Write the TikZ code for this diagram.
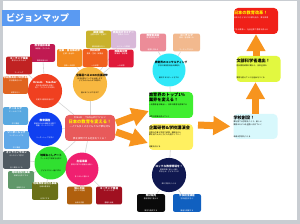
\documentclass[tikz,border=0pt]{standalone}
\usepackage{fontspec}
\setmainfont{Noto Sans CJK JP}
\usetikzlibrary{arrows.meta,backgrounds,calc}
\definecolor{pagegray}{HTML}{C9CDD2}
\definecolor{titleblue}{HTML}{5A9AF2}
\definecolor{linkgray}{HTML}{D6D6D6}
\definecolor{arroworange}{HTML}{F7941E}
\definecolor{cOliveGold}{HTML}{C9B22C}
\definecolor{cLavender}{HTML}{D9B9D9}
\definecolor{cPink}{HTML}{EC8C98}
\definecolor{cPeach}{HTML}{F2B98E}
\definecolor{cOrange}{HTML}{F28A1E}
\definecolor{cOrangeRed}{HTML}{F0601E}
\definecolor{cCrimson}{HTML}{E01A3A}
\definecolor{cMagenta}{HTML}{C01A52}
\definecolor{cDarkRed}{HTML}{C02222}
\definecolor{cBrownOr}{HTML}{E06420}
\definecolor{cLBlue}{HTML}{58A8E0}
\definecolor{cLBlueB}{HTML}{60A8E8}
\definecolor{cDGray}{HTML}{505A62}
\definecolor{cGGreen}{HTML}{60986A}
\definecolor{cOlive}{HTML}{6A7018}
\definecolor{cBrown}{HTML}{B0600E}
\definecolor{cDRed}{HTML}{A01020}
\definecolor{cBlack}{HTML}{0A0A0A}
\definecolor{cBlue}{HTML}{1060C0}
\definecolor{cCoral}{HTML}{E85A5A}
\definecolor{cGreen}{HTML}{40EE30}
\definecolor{cYellow}{HTML}{FFF060}
\definecolor{cRed}{HTML}{F02018}
\definecolor{cLime}{HTML}{E2F840}
\definecolor{cLCyan}{HTML}{D8F8FC}
\definecolor{kYellow}{HTML}{F8B840}
\definecolor{kRed}{HTML}{F04020}
\definecolor{kBlue}{HTML}{1040F0}
\definecolor{kGreen}{HTML}{30E030}
\definecolor{kPink}{HTML}{F02070}
\definecolor{kCyan}{HTML}{30E8F8}
\definecolor{kNavy}{HTML}{101850}
\definecolor{ttlYellow}{HTML}{FFF200}
\newcommand{\sbt}[2]{\fontsize{2.6}{3.1}\selectfont\bfseries #1\\[0.3pt]\fontsize{1.8}{2.2}\selectfont\mdseries #2}
\newcommand{\kct}[2]{\fontsize{2.7}{3.3}\selectfont\bfseries #1\\[0.6pt]\fontsize{1.8}{2.3}\selectfont\mdseries #2}
\newcommand{\bgt}[2]{\fontsize{4.2}{5.2}\selectfont\bfseries #1\\[1pt]\fontsize{1.9}{2.5}\selectfont\mdseries #2}
\tikzset{
  sbox/.style={rectangle, rounded corners=2pt, inner sep=0.5pt, align=center, text width=24pt, text=white, minimum width=25pt, minimum height=12pt},
  bbox/.style={rectangle, rounded corners=4pt, inner sep=0pt, align=left, text width=44pt, minimum height=26pt},
  hub/.style={circle, inner sep=0pt, minimum size=33pt, align=center, text width=28pt},
  link/.style={draw=linkgray, line width=0.6pt},
  fat/.style={draw=arroworange, line width=7pt, -{Triangle[length=17pt,width=18pt]}}
}
\begin{document}
\begin{tikzpicture}[x=1pt,y=-1pt]
\useasboundingbox (0,0) rectangle (300,224);
\begin{scope}[on background layer]
  \fill[pagegray] (0,0) rectangle (300,224);
  \fill[white] (3,1) rectangle (297,220);
\end{scope}
% title
\node[fill=titleblue, minimum width=78pt, minimum height=16pt, inner sep=0pt, anchor=north west] (title) at (2,10) {};
\node[anchor=west, text=white, font=\fontsize{9}{10}\selectfont\bfseries, inner sep=0pt] (titletext) at (6,18) {ビジョンマップ};
% circles
\node[hub, fill=kYellow, minimum size=34pt] (ycirc) at (90,84) {\kct{全国選べる100の出張研修}{日本全国どこへでも出張します\\子どもから大人まで研修を\\届けることができます}};
\node[hub, fill=kRed, text=white] (rcirc) at (45,91) {\kct{Dream Teacher}{夢を語る教師を全国に\\育て、子どもたちの夢を\\応援する教員を増やす}};
\node[hub, fill=kBlue, text=white, minimum size=34pt] (bcirc) at (45,129) {\kct{教育講座}{教師のための講座を全国で\\開催。チームづくりや\\リーダーシップを学ぶ}};
\node[hub, fill=kGreen] (gcirc) at (51,163) {\kct{地域おこしアート}{アートの力で地域を元気に\\子どもたちと一緒に作る}};
\node[hub, fill=kPink, text=white, minimum size=32pt] (pcirc) at (82,169) {\kct{出版事業}{教育に関する書籍を出版し\\多くの人に届ける}};
\node[hub, fill=kCyan] (ccirc) at (169,70) {\kct{教育界のコンサルティング}{学校や教育委員会の課題を\\解決するサポートをする}};
\node[hub, fill=kNavy, text=white, minimum size=32pt] (ncirc) at (169,175) {\kct{ロックな教育現場を！}{教育現場に新しい風を\\吹き込み、子どもたちが\\輝く学校をつくる}};
% small boxes
\node[sbox, fill=cOliveGold, minimum width=23pt, minimum height=13pt] (b1) at (98.5,39.5) {\sbt{講演活動}{全国の学校・企業で\\講演活動を行う}};
\node[sbox, fill=cLavender, minimum width=23pt, minimum height=13pt] (b2) at (123.5,39.5) {\sbt{教員向けセミナー}{教員のための\\セミナーを開催}};
\node[sbox, fill=cPink, minimum width=26pt, minimum height=13pt] (b3) at (153,42.5) {\sbt{教育委員会}{教育委員会との\\連携を深める}};
\node[sbox, fill=cPeach, minimum width=27pt, minimum height=13pt] (b4) at (186.5,42.5) {\sbt{コーチング}{教員・管理職への\\コーチングを行う}};
\node[sbox, fill=cOrange, minimum width=23pt] (b5) at (69.5,58) {\sbt{企業・自治体研修}{企業・自治体・\\団体への研修}};
\node[sbox, fill=cOrangeRed, minimum width=24pt] (b6) at (95,58) {\sbt{学校研修}{教員・生徒・保護者\\への研修}};
\node[sbox, fill=cCrimson, minimum width=24pt, minimum height=13pt] (b7) at (121,58.5) {\sbt{教職員研修}{教職員・管理職\\への研修}};
\node[sbox, fill=cMagenta] (b8) at (42.5,53) {\sbt{教育相談事業}{保護者・子どもの\\相談を受ける}};
\node[sbox, fill=cDarkRed, minimum width=26pt, minimum height=11pt] (b9) at (19,65.5) {\sbt{コーチング事業}{夢を叶えるための\\コーチング}};
\node[sbox, fill=cBrownOr] (b10) at (15.5,85) {\sbt{学校教員向け研修事業}{学校教員向けの\\研修を行う}};
\node[sbox, fill=cLBlue] (b11) at (15.5,116) {\sbt{チーミング}{チームづくりを\\学ぶ講座}};
\node[sbox, fill=cLBlueB] (b12) at (16.5,140) {\sbt{リーダーシップ}{リーダーシップを\\学ぶ講座}};
\node[sbox, fill=cDGray, minimum width=27pt] (b13) at (16.5,160) {\sbt{オンラインサロン}{オンラインで学び\\合う場をつくる}};
\node[sbox, fill=cGGreen, minimum width=26pt] (b14) at (21,180) {\sbt{地域活性化事業}{地域を元気にする\\活動を行う}};
\node[sbox, fill=cOlive, minimum width=26pt] (b15) at (45,191) {\sbt{地域教育活性化事業}{地域の教育を\\元気にする}};
\node[sbox, fill=cBrown, minimum height=11pt] (b16) at (79.5,195.5) {\sbt{個人出版}{個人での書籍\\出版を支援}};
\node[sbox, fill=cDRed, minimum width=26pt, minimum height=11pt] (b17) at (109,195.5) {\sbt{コーチング書籍}{コーチングの\\書籍を出版}};
\node[sbox, fill=cBlack, minimum width=28pt] (b18) at (151,203) {\sbt{教材販売}{教育現場で使える\\教材を販売する}};
\node[sbox, fill=cBlue, minimum width=28pt] (b19) at (187,203) {\sbt{学校経営講座}{学校経営を学ぶ\\講座を開催する}};
% big boxes
\node[rectangle, rounded corners=4pt, fill=cCoral, text=white, align=center, text width=48pt, minimum width=50pt, minimum height=26pt, inner sep=0pt] (coral) at (90,128) {\fontsize{2.6}{3.2}\selectfont Dream Todayのビジョン\\[0.3pt]\fontsize{4.3}{5.2}\selectfont\bfseries\color{ttlYellow}日本の教育を変える！\\[0.8pt]\fontsize{2.4}{3.1}\selectfont\mdseries\color{white}一人でも多くの子どもたちが夢を持ち\\夢を実現できる社会をつくる！};
\node[bbox, fill=cGreen] (green) at (171,105) {\bgt{教育界のトップ1\%\\業界を変える！}{一流教育者を輩出し、日本の教育を変革する\\業界の常識を変えていく}};
\node[bbox, fill=cYellow] (yellow) at (171,137) {\bgt{企業研修\&学校講演会}{全国の企業と学校で研修・講演を行い\\夢を持つ大人と子どもを増やしていく\\活動を広げる}};
\node[bbox, fill=cRed, text=white] (redtr) at (256,21) {\bgt{\color{ttlYellow}日本の教育改革！}{\color{white}日本の子どもたちが夢を持ち、夢を実現\\できる教育へ。社会全体で教育を変える}};
\node[bbox, fill=cLime, minimum height=26pt] (lime) at (258.5,69) {\bgt{文部科学省進出！}{国の教育政策に関わり、日本全体の\\教育を変えていく仕組みをつくる}};
\node[bbox, fill=cLCyan, minimum height=25pt] (lcyan) at (255.5,126.5) {\bgt{学校創設！}{夢を育てる学校をつくり、新しい\\教育のモデルを全国へ広げていく\\未来の学校をつくる}};
% connectors
\begin{scope}[on background layer]
  \foreach \t in {b1,b2,b5,b6,b7,coral} \draw[link] (ycirc) -- (\t);
  \foreach \t in {b8,b9,b10,coral} \draw[link] (rcirc) -- (\t);
  \foreach \t in {b11,b12,coral} \draw[link] (bcirc) -- (\t);
  \foreach \t in {b13,b14,b15,coral} \draw[link] (gcirc) -- (\t);
  \foreach \t in {b16,b17,coral} \draw[link] (pcirc) -- (\t);
  \foreach \t in {b3,b4,green} \draw[link] (ccirc) -- (\t);
  \foreach \t in {b18,b19,yellow} \draw[link] (ncirc) -- (\t);
\end{scope}
% fat arrows
\coordinate (rtail) at (198,125);
\draw[fat] ($(coral.east)+(1,-5)$) -- ($(green.west)+(0,6)$);
\draw[fat] ($(coral.east)+(1,4)$) -- ($(yellow.west)+(-1,6)$);
\draw[fat, shorten >=3pt] (rtail) -- (lcyan.west);
\draw[fat] (redtr.south |- lime.north) -- (redtr.south);
\draw[fat] (lcyan.north) -- (lcyan.north |- lime.south);
\end{tikzpicture}
\end{document}
